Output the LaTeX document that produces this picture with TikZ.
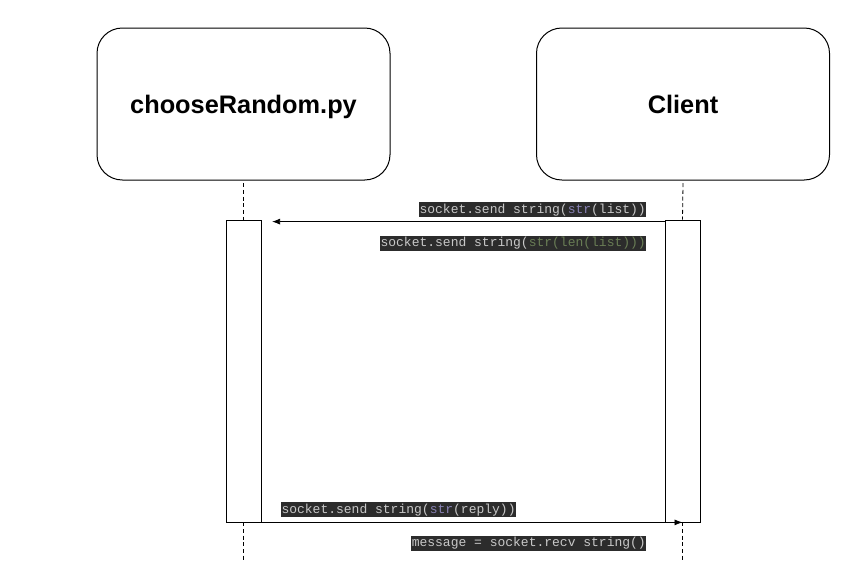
\documentclass[tikz,border=0pt]{standalone}
\usepackage{xcolor}
\usepackage{fontspec}
\setmainfont{Liberation Sans}
\newfontfamily\codefont{Liberation Mono}
\usepackage{tikz}
\usetikzlibrary{positioning, arrows.meta}

\definecolor{codebg}{RGB}{44,44,44}
\definecolor{codefg}{RGB}{200,200,200}
\definecolor{codestr}{RGB}{136,130,180}
\definecolor{codelen}{RGB}{105,125,85}

\begin{document}
\begin{tikzpicture}[x=0.75pt, y=-0.75pt,
		actor/.style={draw, line width=0.75pt, rounded corners=19pt, minimum width=219.75pt, minimum height=114pt, text height=14pt, text depth=0pt, font=\bfseries\fontsize{19}{22}\selectfont},
		activation/.style={draw, line width=0.6pt, minimum width=26.25pt, minimum height=226.5pt},
		lifeline/.style={dashed, dash pattern=on 3pt off 2pt, line width=0.6pt},
		msg/.style={line width=0.6pt, -{Latex[length=6pt, width=4.5pt]}},
		code/.style={fill=codebg, text=codefg, font=\codefont\fontsize{9.75}{10}\selectfont, text height=7.6pt, text depth=2.2pt, inner xsep=0.4pt, inner ysep=0.7pt}]
	\useasboundingbox (0,0) rectangle (859,561);

	% the two actors
	\node[actor] (random) at (243.5,104) {chooseRandom.py};
	\node[actor] (client) at (683,104) {Client};

	% activation boxes
	\node[activation] (randomAct) at (243.5,371) {};
	\node[activation] (clientAct) at (682.5,371) {};

	% lifelines
	\coordinate (randomEnd) at (243.5,560);
	\coordinate (clientEnd) at (682.5,560);
	\draw[lifeline] ([yshift=-2pt]random.south) -- (randomAct.north);
	\draw[lifeline] ([yshift=-2pt]client.south) -- (clientAct.north);
	\draw[lifeline] (randomAct.south) -- (randomEnd);
	\draw[lifeline] (clientAct.south) -- (clientEnd);

	% messages
	\draw[msg] ([yshift=-1.5pt]clientAct.north west) -- ([xshift=8pt, yshift=-1.5pt]randomAct.north east);
	\draw[msg] (randomAct.south east) -- (clientAct.south);

	\node[code, above left=1.5pt and 13.5pt of clientAct.north west] (sendList) {socket.send string(\textcolor{codestr}{str}(list))};
	\node[code, below left=12pt and 13.5pt of clientAct.north west] (sendLen) {socket.send string(\textcolor{codelen}{str(len(list)))}};
	\node[code, above right=3.75pt and 14.5pt of randomAct.south east] (sendReply) {socket.send string(\textcolor{codestr}{str}(reply))};
	\node[code, below left=9.75pt and 13.5pt of clientAct.south west] (recvMsg) {message = socket.recv string()};
\end{tikzpicture}
\end{document}
